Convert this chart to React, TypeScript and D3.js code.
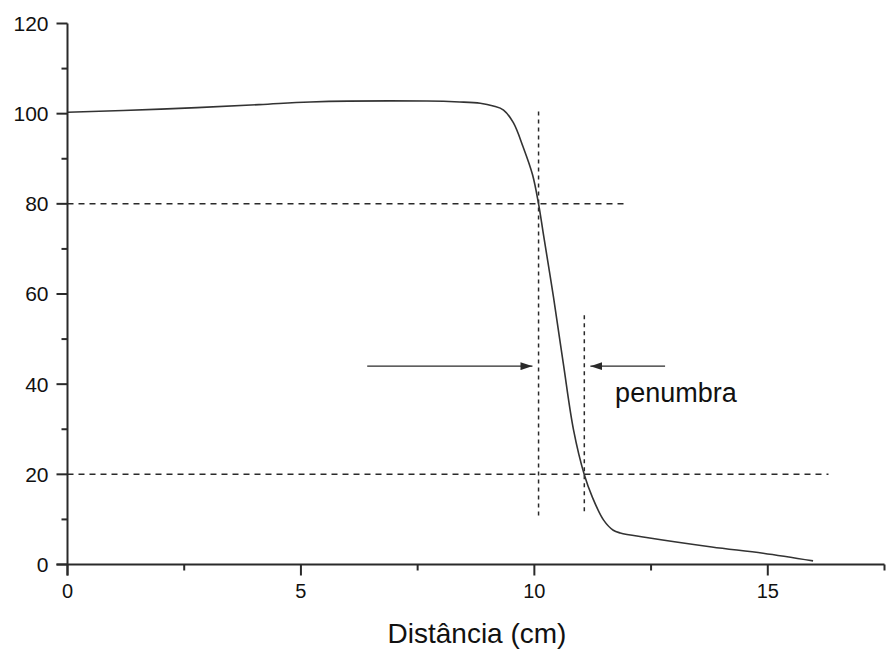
import React from "react";
import * as d3 from "d3";

// Beam profile data (distance in cm, relative dose in %)
const profileX = [0, 2.0, 4.1, 5.2, 7.7, 8.4, 8.84, 9.12, 9.34, 9.55, 9.76, 9.96, 10.09, 10.19, 10.41, 10.62, 10.84, 11.07, 11.24, 11.48, 11.69, 11.84, 12.4, 13.8, 14.9, 15.97];
const profileY = [100.3, 101, 102, 102.6, 102.8, 102.6, 102.3, 101.7, 100.8, 98, 92.6, 86.5, 80, 73.5, 59.3, 44.6, 29.8, 19.9, 15, 9.9, 7.6, 7, 6.0, 3.9, 2.5, 0.8];

const yMajorTicks = [0, 20, 40, 60, 80, 100, 120];
const yMinorTicks = [10, 30, 50, 70, 90, 110];
const xMajorTicks = [0, 5, 10, 15];
const xMinorTicks = [2.5, 7.5, 12.5, 17.5];

// Reference dashed lines
const hLineLevels = [80, 20];
const hLineEnds = [12, 16.3];
const vLineX = [10.09, 11.07];
const vLineTop = [100.5, 55.3];
const vLineBottom = [10.5, 11.6];

// Penumbra arrows (y level, from x, to x)
const arrowY = 44;
const arrowFrom = [6.42, 12.8];
const arrowTo = [9.96, 11.2];
const labelText = "penumbra";
const labelPos = [11.73, 36];
const xTitle = "Distância (cm)";

export default function App() {
  const x = d3.scaleLinear().domain([0, 17.5]).range([67.5, 884.5]);
  const y = d3.scaleLinear().domain([0, 120]).range([564.5, 23.5]);
  const line = d3
    .line<number>()
    .x((_, i) => x(profileX[i]))
    .y((d) => y(d))
    .curve(d3.curveCatmullRom.alpha(0.5));

  const ink = "#2a2a2a";
  const font = "'Liberation Sans', Arial, sans-serif";

  return (
    <svg
      width={887}
      height={657}
      style={{ position: "absolute", left: 0, top: 0, background: "#fff" }}
      fontFamily={font}
    >
      <defs>
        <marker id="ah" viewBox="0 0 12 8" refX={12} refY={4} markerWidth={12} markerHeight={8} markerUnits="userSpaceOnUse" orient="auto">
          <path d="M0,0 L12,4 L0,8 Z" fill={ink} />
        </marker>
      </defs>

      {/* dashed reference lines */}
      {hLineLevels.map((lv, i) => (
        <line key={"h" + i} x1={x(0)} x2={x(hLineEnds[i])} y1={y(lv)} y2={y(lv)} stroke={ink} strokeWidth={1.5} strokeDasharray="6,5" />
      ))}
      {vLineX.map((vx, i) => (
        <line key={"v" + i} x1={x(vx)} x2={x(vx)} y1={y(vLineTop[i])} y2={y(vLineBottom[i])} stroke={ink} strokeWidth={1.5} strokeDasharray="4,4" />
      ))}

      {/* profile curve */}
      <path d={line(profileY) || ""} fill="none" stroke="#333" strokeWidth={1.6} />

      {/* arrows */}
      {arrowFrom.map((fx, i) => (
        <line key={"a" + i} x1={x(fx)} x2={x(arrowTo[i])} y1={y(arrowY)} y2={y(arrowY)} stroke={ink} strokeWidth={1.4} markerEnd="url(#ah)" />
      ))}
      <text x={x(labelPos[0])} y={y(labelPos[1])} fontSize={27} fill="#111">{labelText}</text>

      {/* axes */}
      <line x1={x(0)} x2={x(0)} y1={y(120)} y2={y(0) + 11} stroke={ink} strokeWidth={2} />
      <line x1={x(0) - 11} x2={x(17.5)} y1={y(0)} y2={y(0)} stroke={ink} strokeWidth={2} />
      {yMajorTicks.map((t) => (
        <g key={"ym" + t}>
          <line x1={x(0) - 11} x2={x(0)} y1={y(t)} y2={y(t)} stroke={ink} strokeWidth={2} />
          <text x={x(0) - 19} y={y(t)} dy="0.35em" textAnchor="end" fontSize={21} fill="#111">{t}</text>
        </g>
      ))}
      {yMinorTicks.map((t) => (
        <line key={"yn" + t} x1={x(0) - 6} x2={x(0)} y1={y(t)} y2={y(t)} stroke={ink} strokeWidth={2} />
      ))}
      {xMajorTicks.map((t) => (
        <g key={"xm" + t}>
          <line x1={x(t)} x2={x(t)} y1={y(0)} y2={y(0) + 11} stroke={ink} strokeWidth={2} />
          <text x={x(t)} y={y(0) + 33} textAnchor="middle" fontSize={20} fill="#111">{t}</text>
        </g>
      ))}
      {xMinorTicks.map((t) => (
        <line key={"xn" + t} x1={x(t)} x2={x(t)} y1={y(0)} y2={y(0) + 6} stroke={ink} strokeWidth={2} />
      ))}
      <text x={477} y={643} textAnchor="middle" fontSize={28} fill="#111">{xTitle}</text>
    </svg>
  );
}
